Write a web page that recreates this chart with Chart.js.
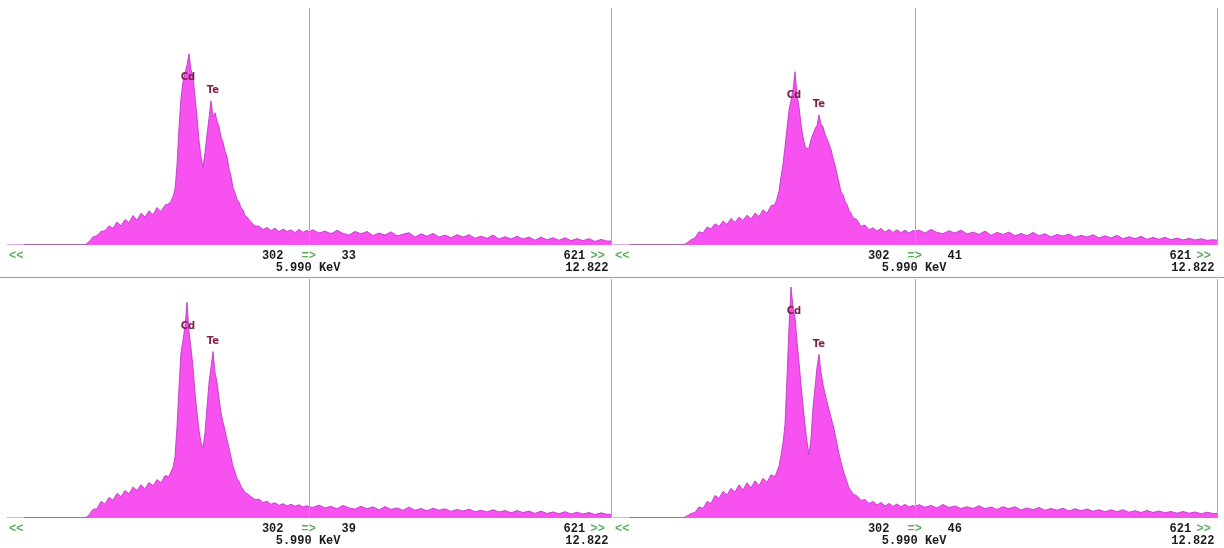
<!DOCTYPE html>
<html>
<head>
<meta charset="utf-8">
<script src="https://cdn.jsdelivr.net/npm/chart.js@4/dist/chart.umd.min.js"></script>
<style>
  html, body { margin: 0; padding: 0; background: #fff; }
  #wrap { position: relative; width: 1224px; height: 548px; overflow: hidden; }
  .panel { position: absolute; }
</style>
</head>
<body>
<div id="wrap">
  <canvas class="panel" id="spec0" width="612" height="278" style="left:0;top:0"></canvas>
  <canvas class="panel" id="spec1" width="612" height="278" style="left:612px;top:0"></canvas>
  <canvas class="panel" id="spec2" width="612" height="270" style="left:0;top:278px"></canvas>
  <canvas class="panel" id="spec3" width="612" height="270" style="left:612px;top:278px"></canvas>
</div>
<script>
// canais (eixo x) comuns aos quatro espectros
const channels = [0, 20, 40, 60, 70,
  74, 78, 82, 86, 90, 94, 98, 102, 106, 110, 114, 118, 122, 126, 130, 134, 138, 142, 146, 150, 154, 158, 162,
  164, 166, 168, 170, 172, 174, 176, 178, 180, 182, 184, 186, 188, 190, 192, 194, 196, 198, 200, 202, 204, 206,
  208, 210, 212, 214, 216, 218, 220, 222, 224, 226, 228, 230, 232, 234, 236, 238, 240,
  244, 248, 252, 256, 260, 264, 268, 272, 276, 280, 284, 288, 292, 296, 300,
  302,
  306, 312, 318, 324, 330, 336, 342, 348, 354, 360, 366, 372, 378, 384, 390, 396, 402, 408, 414, 420,
  426, 432, 438, 444, 450, 456, 462, 468, 474, 480, 486, 492, 498, 504, 510, 516, 522, 528, 534, 540,
  546, 552, 558, 564, 570, 576, 582, 588, 594, 600,
  605];

// contagens de cada amostra
const countsA = [0, 0, 0, 0, 0,
  0, 0, 8, 20, 24, 34, 36, 48, 42, 58, 48, 64, 56, 74, 62, 80, 70, 86, 76, 94, 84, 100, 104,
  110, 122, 140, 200, 295, 370, 410, 432, 452, 480, 440, 422, 372, 322, 262, 222, 195, 232, 278, 318, 362, 322,
  332, 312, 298, 272, 258, 236, 222, 192, 172, 144, 132, 114, 108, 94, 88, 74, 70,
  58, 48, 47, 39, 44, 36, 42, 33, 40, 34, 38, 31, 39, 32, 37,
  33,
  38, 30, 35, 28, 37, 29, 25, 34, 28, 34, 24, 30, 25, 33, 23, 27, 31, 20, 28, 22,
  29, 20, 25, 18, 26, 20, 26, 17, 22, 17, 25, 15, 21, 15, 22, 15, 20, 12, 20, 13,
  18, 12, 18, 11, 16, 11, 16, 9, 14, 10,
  10];

const countsB = [0, 0, 0, 0, 0,
  6, 16, 22, 40, 36, 54, 48, 64, 56, 72, 62, 80, 68, 84, 74, 90, 78, 96, 86, 106, 96, 118, 122,
  140, 162, 206, 244, 296, 352, 406, 436, 468, 522, 454, 416, 364, 326, 298, 290, 292, 318, 334, 350, 360, 392,
  364, 356, 334, 320, 304, 288, 262, 242, 214, 188, 160, 152, 132, 122, 104, 96, 82,
  76, 56, 60, 46, 52, 42, 50, 39, 47, 38, 46, 37, 45, 36, 44,
  41,
  45, 36, 47, 38, 34, 43, 36, 45, 33, 39, 32, 42, 29, 38, 32, 39, 28, 35, 28, 38,
  28, 34, 24, 32, 27, 33, 23, 29, 24, 31, 21, 28, 21, 29, 19, 25, 19, 26, 17, 23,
  17, 23, 16, 21, 15, 20, 15, 19, 14, 16,
  14];

const countsC = [0, 0, 0, 0, 0,
  0, 0, 10, 30, 32, 58, 48, 72, 62, 86, 74, 96, 84, 108, 96, 116, 102, 124, 112, 134, 122, 148, 144,
  162, 176, 214, 318, 456, 578, 620, 668, 752, 650, 592, 526, 436, 368, 306, 262, 246, 298, 386, 472, 526, 580,
  508, 474, 418, 366, 334, 306, 274, 244, 212, 180, 160, 138, 128, 110, 100, 88, 86,
  74, 64, 66, 54, 58, 48, 53, 44, 50, 42, 48, 41, 46, 38, 43,
  39,
  37, 45, 35, 41, 32, 44, 35, 31, 41, 32, 39, 28, 40, 30, 35, 27, 38, 27, 33, 25,
  34, 27, 32, 23, 30, 24, 31, 22, 27, 21, 29, 21, 26, 18, 26, 19, 24, 16, 24, 16,
  21, 15, 22, 14, 20, 14, 19, 12, 18, 13,
  13];

const countsD = [0, 0, 0, 0, 0,
  8, 18, 22, 44, 38, 66, 58, 90, 78, 106, 92, 118, 104, 132, 112, 140, 120, 148, 128, 158, 142, 172, 164,
  186, 206, 250, 300, 372, 560, 760, 920, 840, 800, 704, 620, 532, 448, 372, 304, 252, 320, 440, 520, 600, 652,
  580, 532, 496, 464, 432, 400, 372, 336, 296, 256, 224, 192, 168, 144, 120, 108, 96,
  88, 70, 74, 58, 66, 52, 62, 48, 58, 46, 56, 45, 54, 44, 50,
  46,
  53, 43, 50, 40, 54, 42, 48, 38, 45, 38, 49, 37, 44, 34, 45, 37, 45, 32, 40, 33,
  42, 31, 38, 31, 39, 28, 37, 29, 36, 27, 33, 25, 33, 25, 33, 23, 29, 22, 30, 22,
  28, 21, 26, 19, 26, 19, 24, 17, 23, 18,
  18];

const spectra = [countsA, countsB, countsC, countsD];
const fullScale = [595, 714, 833, 952];

// cursor e marcador final
const cursorChannel = 302;
const cursorEnergy = "5.990 KeV";
const endChannel = 621;
const endEnergy = "12.822";

// picos identificados
const peakNames = ["Cd", "Te"];
const peakChannels = [181, 206];

const GRAY = "#a8a8a8";
const GREEN = "#5aae5a";
const INK = "#1c1c1c";

// linhas de grade, leitura do cursor e nomes dos picos
const spectrumDecor = {
  id: "spectrumDecor",
  beforeDatasetsDraw(chart) {
    const { ctx, chartArea: a } = chart;
    ctx.save();
    ctx.strokeStyle = "#8c8c8c";
    ctx.lineWidth = 1;
    ctx.beginPath();
    ctx.moveTo(a.left + 17, Math.round(a.bottom) - 0.5);
    ctx.lineTo(a.right, Math.round(a.bottom) - 0.5);
    ctx.stroke();
    ctx.restore();
  },
  afterDatasetsDraw(chart, args, opts) {
    const { ctx, chartArea: a, scales: { x, y } } = chart;
    const values = chart.data.datasets[0].data;
    ctx.save();

    // cursor e borda direita
    const cx = Math.round(x.getPixelForValue(cursorChannel)) + 0.5;
    const rx = Math.round(a.right) - 0.5;
    ctx.strokeStyle = GRAY;
    ctx.lineWidth = 1;
    ctx.beginPath();
    ctx.moveTo(cx, a.top);
    ctx.lineTo(cx, a.bottom);
    ctx.moveTo(rx, a.top);
    ctx.lineTo(rx, a.bottom);
    ctx.stroke();

    if (opts.separator) {
      ctx.strokeStyle = "#9a9a9a";
      ctx.beginPath();
      ctx.moveTo(0, chart.height - 0.5);
      ctx.lineTo(chart.width, chart.height - 0.5);
      ctx.stroke();
    }

    // leitura do cursor
    const atCursor = values.find(p => p.x === cursorChannel);
    const row1 = a.bottom + 11;
    const row2 = a.bottom + 23;
    ctx.font = 'bold 12px "Liberation Mono"';
    ctx.textBaseline = "middle";

    ctx.fillStyle = GREEN;
    ctx.textAlign = "left";
    ctx.fillText("<<", a.left + 2, row1);
    ctx.fillText("=>", cx - 8, row1);
    ctx.fillText(">>", rx - 21, row1);

    ctx.fillStyle = INK;
    ctx.textAlign = "right";
    ctx.fillText(String(cursorChannel), cx - 26, row1);
    ctx.fillText(cursorEnergy, cx + 31, row2);
    ctx.fillText(endEnergy, rx - 3, row2);
    ctx.textAlign = "left";
    ctx.fillText(String(atCursor ? atCursor.y : ""), cx + 32, row1);
    ctx.fillText(String(endChannel), rx - 48, row1);

    // nomes dos picos
    ctx.font = 'bold 10px "DejaVu Sans"';
    ctx.fillStyle = "#7a1f45";
    ctx.textAlign = "center";
    peakNames.forEach((name, i) => {
      const ch = peakChannels[i];
      let top = 0;
      values.forEach(p => {
        if (Math.abs(p.x - ch) <= 4 && p.y > top) top = p.y;
      });
      const px = x.getPixelForValue(ch);
      const py = y.getPixelForValue(top);
      ctx.fillText(name, px, i === 0 ? py + 24 : py - 10);
    });

    ctx.restore();
  }
};

const paddings = [
  { left: 7, right: 0, top: 8, bottom: 33 },
  { left: 1, right: 6, top: 8, bottom: 33 },
  { left: 7, right: 0, top: 1, bottom: 30 },
  { left: 1, right: 6, top: 1, bottom: 30 }
];

spectra.forEach((counts, i) => {
  const ctx = document.getElementById("spec" + i).getContext("2d");
  new Chart(ctx, {
    type: "line",
    data: {
      datasets: [{
        data: channels.map((c, k) => ({ x: c, y: counts[k] })),
        borderColor: "rgba(190, 60, 200, 0.9)",
        borderWidth: 1,
        backgroundColor: "#f752f0",
        fill: "origin",
        pointRadius: 0,
        tension: 0
      }]
    },
    options: {
      responsive: false,
      animation: false,
      layout: { padding: paddings[i] },
      scales: {
        x: { type: "linear", min: 0, max: 605, display: false },
        y: { min: 0, max: fullScale[i], display: false }
      },
      plugins: {
        legend: { display: false },
        tooltip: { enabled: false },
        spectrumDecor: { separator: i < 2 }
      }
    },
    plugins: [spectrumDecor]
  });
});
</script>
</body>
</html>
